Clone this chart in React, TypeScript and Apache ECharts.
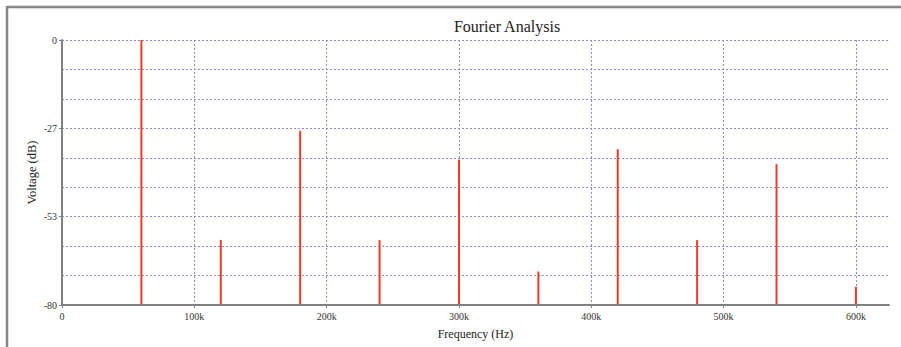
import React, { useEffect, useRef } from "react";
import * as echarts from "echarts";

const frequencies = [60000, 120000, 180000, 240000, 300000, 360000, 420000, 480000, 540000, 600000];
const voltagesDb = [0, -60.4, -27.4, -60.4, -36.1, -69.9, -33.0, -60.4, -37.5, -74.5];
const yMin = -80;
const yMax = 0;
const xMax = 625000;
const titleText = "Fourier Analysis";
const xName = "Frequency (Hz)";
const yName = "Voltage (dB)";

const FONT = "'Liberation Serif', 'Times New Roman', serif";

export default function App() {
  const ref = useRef<HTMLDivElement>(null);
  useEffect(() => {
    if (!ref.current) return;
    const chart = echarts.init(ref.current, null, { renderer: "svg" });
    const gridStyle = { color: "#8c8cd4", type: [2, 2] as any, width: 1 };
    chart.setOption({
      animation: false,
      backgroundColor: "#ffffff",
      grid: { left: 62, top: 40, right: 12, bottom: 42, containLabel: false },
      graphic: [
        { type: "line", shape: { x1: 7, y1: 7, x2: 901, y2: 7 }, style: { stroke: "#858585", lineWidth: 2.5 } },
        { type: "line", shape: { x1: 7, y1: 6, x2: 7, y2: 347 }, style: { stroke: "#858585", lineWidth: 2.5 } },
        {
          type: "text",
          x: 507,
          y: 26,
          style: {
            text: titleText,
            font: `16px ${FONT}`,
            fill: "#222",
            textAlign: "center",
            textVerticalAlign: "middle",
          },
        },
      ],
      xAxis: {
        type: "value",
        min: 0,
        max: xMax,
        interval: 100000,
        name: xName,
        nameLocation: "middle",
        nameGap: 23,
        nameTextStyle: { fontFamily: FONT, fontSize: 12, color: "#222" },
        axisLine: { show: true, onZero: false, lineStyle: { color: "#808080", width: 2 } },
        axisTick: { show: true, length: 3, lineStyle: { color: "#808080" } },
        axisLabel: {
          fontFamily: FONT,
          fontSize: 10,
          color: "#333",
          margin: 6,
          showMaxLabel: false,
          formatter: (v: number) => (v === 0 ? "0" : `${Math.round(v / 1000)}k`),
        },
        splitLine: { show: true, showMaxLine: false, showMinLine: false, lineStyle: gridStyle },
      },
      yAxis: {
        type: "value",
        min: yMin,
        max: yMax,
        interval: 80 / 3,
        name: yName,
        nameLocation: "middle",
        nameGap: 24,
        nameMoveOverlap: false,
        nameRotate: 90,
        nameTextStyle: { fontFamily: FONT, fontSize: 12.5, color: "#222" },
        axisLine: { show: true, onZero: false, lineStyle: { color: "#808080", width: 2 } },
        axisTick: { show: true, length: 3, lineStyle: { color: "#808080" } },
        minorTick: { show: false, splitNumber: 3 },
        minorSplitLine: { show: true, lineStyle: gridStyle },
        axisLabel: {
          fontFamily: FONT,
          fontSize: 10,
          color: "#333",
          margin: 5,
          formatter: (v: number) => `${Math.round(v)}`,
        },
        splitLine: { show: true, showMinLine: false, lineStyle: gridStyle },
      },
      series: [
        {
          type: "custom",
          data: frequencies.map((f, i) => [f, voltagesDb[i]]),
          renderItem: (params: any, api: any) => {
            const x = api.value(0);
            const y = api.value(1);
            const top = api.coord([x, y]);
            const bot = api.coord([x, yMin]);
            return {
              type: "line",
              shape: { x1: top[0], y1: top[1], x2: bot[0], y2: bot[1] - 1 },
              style: { stroke: "#ea3b2b", lineWidth: 2 },
            };
          },
        },
      ],
    });
    return () => chart.dispose();
  }, []);
  return <div ref={ref} style={{ width: 901, height: 347, position: "absolute", left: 0, top: 0 }} />;
}
